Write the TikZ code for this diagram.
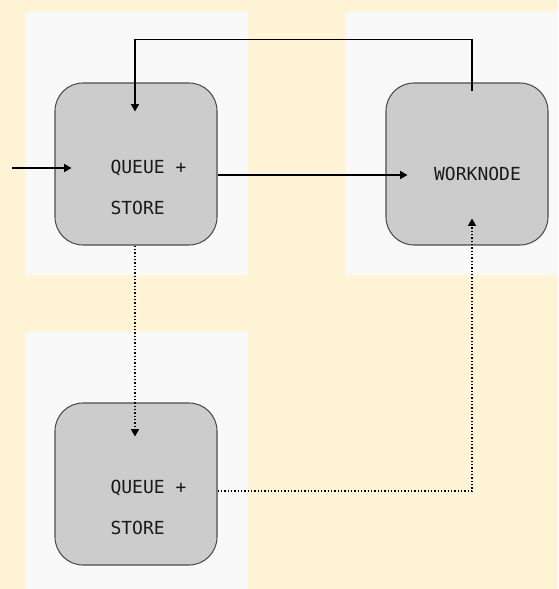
\documentclass[tikz,border=0pt]{standalone}
\usepackage{fontspec}
\setmonofont{DejaVu Sans Mono}
\usetikzlibrary{arrows.meta,positioning,calc}

\definecolor{paper}{HTML}{FFF5D6}
\definecolor{panefill}{HTML}{F9F9F9}
\definecolor{boxgray}{HTML}{CCCCCC}
\definecolor{rim}{HTML}{4D4D4D}

\begin{document}
\begin{tikzpicture}[x=0.75pt,y=-0.75pt]
            \tikzstyle{backpane}=[fill=panefill,draw=none]
            \tikzstyle{state}=[rectangle,rounded corners=21pt,minimum width=121.5pt,minimum height=121.5pt,draw=rim,line width=0.8pt,fill=boxgray]
            \tikzstyle{link}=[font=\ttfamily\fontsize{13.5}{30.75}\selectfont,text=black!90,align=left,inner sep=0pt]

            \tikzstyle{wire}=[line width=1.2pt,-{Triangle[width=6pt,length=5.5pt]}]   % solid flow
            \tikzstyle{sync}=[wire,dash pattern=on 1.1pt off 1.4pt]                   % replication

            % page and host panes
            \fill[paper] (0,0) rectangle (558,589);
            \useasboundingbox (0,0) rectangle (558,589);
            \fill[backpane] (26,12) rectangle (248,275);
            \fill[backpane] (346,12) rectangle (558,275);
            \fill[backpane] (26,332) rectangle (248,589);

            \node[state] (q1) at (136,164) {};
            \node[state] (wn) at (467,164) {};
            \node[state] (q2) at (136,484) {};

            \node[link] (q1t) at ($(q1)+(12.5,23.5)$) {QUEUE +\\STORE};
            \node[link] (wnt) at ($(wn)+(10.5,10)$) {WORKNODE};
            \node[link] (q2t) at ($(q2)+(12.5,23.5)$) {QUEUE +\\STORE};

            \coordinate (src) at (12,168);

            \draw[wire] (src) -- ($(q1.west)+(17,4)$);
            \draw[wire] ($(q1.east)+(0,11)$) -- ($(wn.west)+(22,11)$);
            \draw[wire] ($(wn.north)+(5,9)$) -- ++(0,-52) -| ($(q1.north)+(-1,29)$);

            \draw[sync] ($(q1.south)+(-1,0)$) -- ($(q2.north)+(-1,34)$);
            \draw[sync] ($(q2.east)+(0,7)$) -| ($(wn.south)+(5,-27)$);
        \end{tikzpicture}
\end{document}
